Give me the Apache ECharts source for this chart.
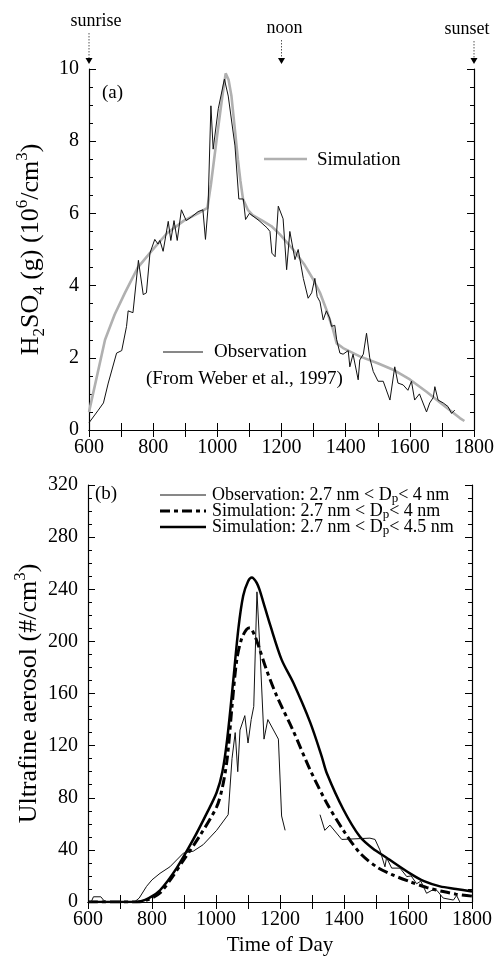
<!DOCTYPE html>
<html><head><meta charset="utf-8">
<script src="https://cdn.jsdelivr.net/npm/echarts@6/dist/echarts.min.js"></script>
<style>html,body{margin:0;padding:0;background:#fff}#c{width:499px;height:961px}</style>
</head><body><div id="c"></div>
<script>
// ---- Panel (a): H2SO4 ----
const obsA_t=[600,629,645,660,686,702,717,722,737,754,769,779,790,805,815,821,831,847,855,865,875,888,903,919,940,955,963,971,980,987,1003,1022,1034,1055,1067,1081,1088,1100,1130,1155,1164,1170,1180,1190,1205,1216,1226,1242,1252,1268,1283,1294,1304,1311,1320,1330,1340,1350,1356,1366,1372,1382,1392,1408,1413,1423,1439,1444,1455,1465,1475,1486,1501,1517,1538,1553,1563,1579,1594,1605,1615,1630,1652,1662,1673,1678,1688,1704,1719,1730,1740];
const obsA_v=[0.2,0.55,0.75,1.3,2.13,2.2,2.87,3.3,3.25,4.7,3.75,3.8,4.9,5.28,5.15,5.25,4.95,5.78,5.25,5.8,5.25,6.1,5.8,5.9,6.05,6.1,5.28,6.15,8.98,7.78,8.9,9.72,9.25,7.87,6.4,6.4,5.83,6.0,5.8,5.6,5.5,4.9,4.8,6.2,5.85,4.44,5.5,4.72,5.0,4.2,3.65,3.8,4.2,3.7,3.55,3.05,3.3,3.1,2.87,2.9,2.5,2.13,2.1,2.2,1.75,2.1,1.39,1.94,2.1,2.68,2.0,1.62,1.35,1.35,0.83,1.75,1.3,1.25,1.1,1.35,0.83,1.0,0.5,0.75,0.9,1.2,0.83,0.75,0.65,0.46,0.55];
const simA_t=[600,625,650,680,712,752,794,843,896,940,969,980,1000,1015,1026,1035,1044,1055,1064,1072,1080,1095,1110,1140,1168,1195,1236,1270,1299,1320,1340,1360,1372,1392,1444,1500,1548,1600,1652,1700,1756,1770];
const simA_v=[0.5,1.5,2.5,3.2,3.8,4.5,4.95,5.45,5.8,6.0,6.15,6.8,8.2,9.2,9.88,9.7,9.25,8.3,7.5,6.9,6.4,6.1,5.95,5.8,5.65,5.42,5.0,4.6,4.17,3.8,3.33,2.8,2.4,2.27,2.04,1.85,1.67,1.4,1.06,0.72,0.33,0.25];

// ---- Panel (b): ultrafine aerosol ----
const obsB_t=[600,610,617,640,650,660,745,760,783,800,825,856,898,929,960,1002,1038,1050,1060,1068,1075,1090,1100,1110,1118,1128,1138,1150,1162,1195,1205,1216,1260,1325,1340,1346,1356,1393,1481,1497,1512,1528,1533,1549,1575,1596,1610,1627,1640,1658,1675,1690,1710,1742,1752,1762];
const obsB_v=[0,0,4,4,1,0,0,3,12,17,22,27,37.5,39,44,55,67,110,130,100,132,143,122,140,150,238,190,125,140,125,66,55,null,67,55,54,59,48,49,48,40,27,34,26,26,19.5,20,14,16,6.7,9,9,3,1.5,5,0];
const sim4_t=[600,755,790,825,860,898,950,1002,1020,1035,1050,1065,1080,1095,1106,1120,1135,1158,1190,1242,1294,1346,1398,1450,1502,1550,1606,1660,1710,1750,1800];
const sim4_v=[0,0,2,7,18,32,51,73,88,110,150,186,202,209,210.5,205,195,178,158,131,101.5,76,55,37.5,27,21,15.6,11,8,6,4.5];
const sim45_t=[600,752,790,825,877,929,971,1002,1020,1035,1054,1070,1085,1100,1112,1127,1137,1148,1170,1205,1242,1294,1330,1346,1398,1450,1490,1533,1606,1650,1700,1750,1800];
const sim45_v=[0,0,3,9,26,48,68,84,100,125,170,210,235,246,249,245,239,230,212,186,168,138,112,99,71,50,41,34,22,16,12,10,8];
const xTicks=[600,800,1000,1200,1400,1600,1800];

const F='"Liberation Serif","Times New Roman",serif';
function pairs(t,v){return t.map((x,i)=>[x,v[i]]);}
const chart=echarts.init(document.getElementById('c'));

function xAx(grid,pos,labels,extra){
  return Object.assign({type:'value',gridIndex:grid,position:pos,min:xTicks[0],max:xTicks[xTicks.length-1],interval:200,
    axisLine:{show:true,lineStyle:{color:'#000',width:1.2}},
    axisTick:{show:true,inside:true,length:7,lineStyle:{color:'#000'}},
    minorTick:{show:true,splitNumber:2,length:7,lineStyle:{color:'#000'}},
    splitLine:{show:false},
    axisLabel:{show:labels,color:'#000',fontFamily:F,fontSize:20,margin:8,formatter:v=>String(v)}},extra||{});
}
function yAx(grid,pos,min,max,iv,labels){
  return {type:'value',gridIndex:grid,position:pos,min:min,max:max,interval:iv,
    axisLine:{show:true,lineStyle:{color:'#000',width:1.2}},
    axisTick:{show:true,inside:true,length:7,lineStyle:{color:'#000'}},
    minorTick:{show:true,splitNumber:4,length:4,lineStyle:{color:'#000'}},
    splitLine:{show:false},
    axisLabel:{show:labels,color:'#000',fontFamily:F,fontSize:20,margin:10,formatter:v=>String(v)}};
}

chart.setOption({
  animation:false,
  backgroundColor:'#fff',
  grid:[{left:89,top:69,width:385,height:361},{left:88,top:485,width:384,height:417}],
  xAxis:[
    xAx(0,'bottom',true),
    xAx(0,'top',false),
    xAx(1,'bottom',true,{name:'Time of Day',nameLocation:'middle',nameGap:33,nameTextStyle:{fontFamily:F,fontSize:21,color:'#000'}}),
    xAx(1,'top',false)
  ],
  yAxis:[
    yAx(0,'left',0,10,2,true),
    yAx(0,'right',0,10,2,false),
    yAx(1,'left',0,320,40,true),
    yAx(1,'right',0,320,40,false)
  ],
  series:[
    {type:'line',xAxisIndex:0,yAxisIndex:0,data:pairs(simA_t,simA_v),symbol:'none',lineStyle:{color:'#b0b0b0',width:2.6},z:2},
    {type:'line',xAxisIndex:0,yAxisIndex:0,data:pairs(obsA_t,obsA_v),symbol:'none',lineStyle:{color:'#111',width:1},z:3},
    {type:'line',xAxisIndex:2,yAxisIndex:2,data:pairs(obsB_t,obsB_v),symbol:'none',connectNulls:false,lineStyle:{color:'#111',width:1},z:3},
    {type:'line',xAxisIndex:2,yAxisIndex:2,data:pairs(sim4_t,sim4_v),symbol:'none',smooth:0.3,lineStyle:{color:'#000',width:3,type:[10,4,4,4]},z:2},
    {type:'line',xAxisIndex:2,yAxisIndex:2,data:pairs(sim45_t,sim45_v),symbol:'none',smooth:0.3,lineStyle:{color:'#000',width:2.5},z:2}
  ]
});

// annotations
const g=[];
function txt(x,y,text,size,align,rich,rot){
  g.push({type:'text',x:x,y:y,rotation:rot||0,style:{text:text,fontFamily:F,fontSize:size,fill:'#000',align:align||'left',verticalAlign:'middle',rich:rich}});
}
function line(x1,y1,x2,y2,w,color,dash){
  g.push({type:'line',shape:{x1:x1,y1:y1,x2:x2,y2:y2},style:{stroke:color||'#000',lineWidth:w||1,lineDash:dash||null}});
}
// y axis titles (rotated)
const nameRich={
  n:{fontFamily:F,fontSize:26,fill:'#000',lineHeight:34},
  sb:{fontFamily:F,fontSize:17,fill:'#000',lineHeight:17,verticalAlign:'bottom'},
  sp:{fontFamily:F,fontSize:17,fill:'#000',lineHeight:17,verticalAlign:'top'}
};
const ca=chart.convertToPixel({xAxisIndex:0,yAxisIndex:0},[600,5]);
const cb=chart.convertToPixel({xAxisIndex:2,yAxisIndex:2},[600,160]);
txt(31,ca[1],'{n|H}{sb|2}{n|SO}{sb|4}{n| (g) (10}{sp|6}{n|/cm}{sp|3}{n|)}',26,'center',nameRich,Math.PI/2);
txt(29,cb[1],'{n|Ultrafine aerosol (#/cm}{sp|3}{n|)}',26,'center',nameRich,Math.PI/2);
// sunrise / noon / sunset arrows
const marks=[[600,'sunrise',21,7],[1200,'noon',28,3],[1800,'sunset',29,-7]];
marks.forEach(m=>{
  const p=chart.convertToPixel({xAxisIndex:0,yAxisIndex:0},[m[0],10]);
  txt(p[0]+m[3],m[2],m[1],18,'center');
  line(p[0],m[2]+12,p[0],p[1]-10,1,'#555',[1.5,1.5]);
  g.push({type:'polygon',shape:{points:[[p[0]-3.5,p[1]-11],[p[0]+3.5,p[1]-11],[p[0],p[1]-5]]},style:{fill:'#000'}});
});
// panel labels
txt(102,93,'(a)',19);
txt(95,494,'(b)',19);
// panel (a) legend
line(264,159,307,159,2.6,'#b0b0b0');
txt(317,160,'Simulation',19);
line(163,352,203,352,1,'#111');
txt(214,352,'Observation',19);
txt(146,379,'(From Weber et al., 1997)',19);
// panel (b) legend
const lr={t:{fontFamily:F,fontSize:18,fill:'#000',lineHeight:20},s:{fontFamily:F,fontSize:13,fill:'#000',lineHeight:13,verticalAlign:'bottom'}};
line(160,495,206,495,1,'#111');
txt(212,495,'{t|Observation: 2.7 nm < D}{s|p}{t|< 4 nm}',18,'left',lr);
line(160,511,206,511,3,'#000',[10,4,4,4]);
txt(212,511,'{t|Simulation: 2.7 nm < D}{s|p}{t|< 4 nm}',18,'left',lr);
line(160,527,206,527,2.5,'#000');
txt(212,527,'{t|Simulation: 2.7 nm < D}{s|p}{t|< 4.5 nm}',18,'left',lr);
chart.setOption({graphic:g});
</script></body></html>
